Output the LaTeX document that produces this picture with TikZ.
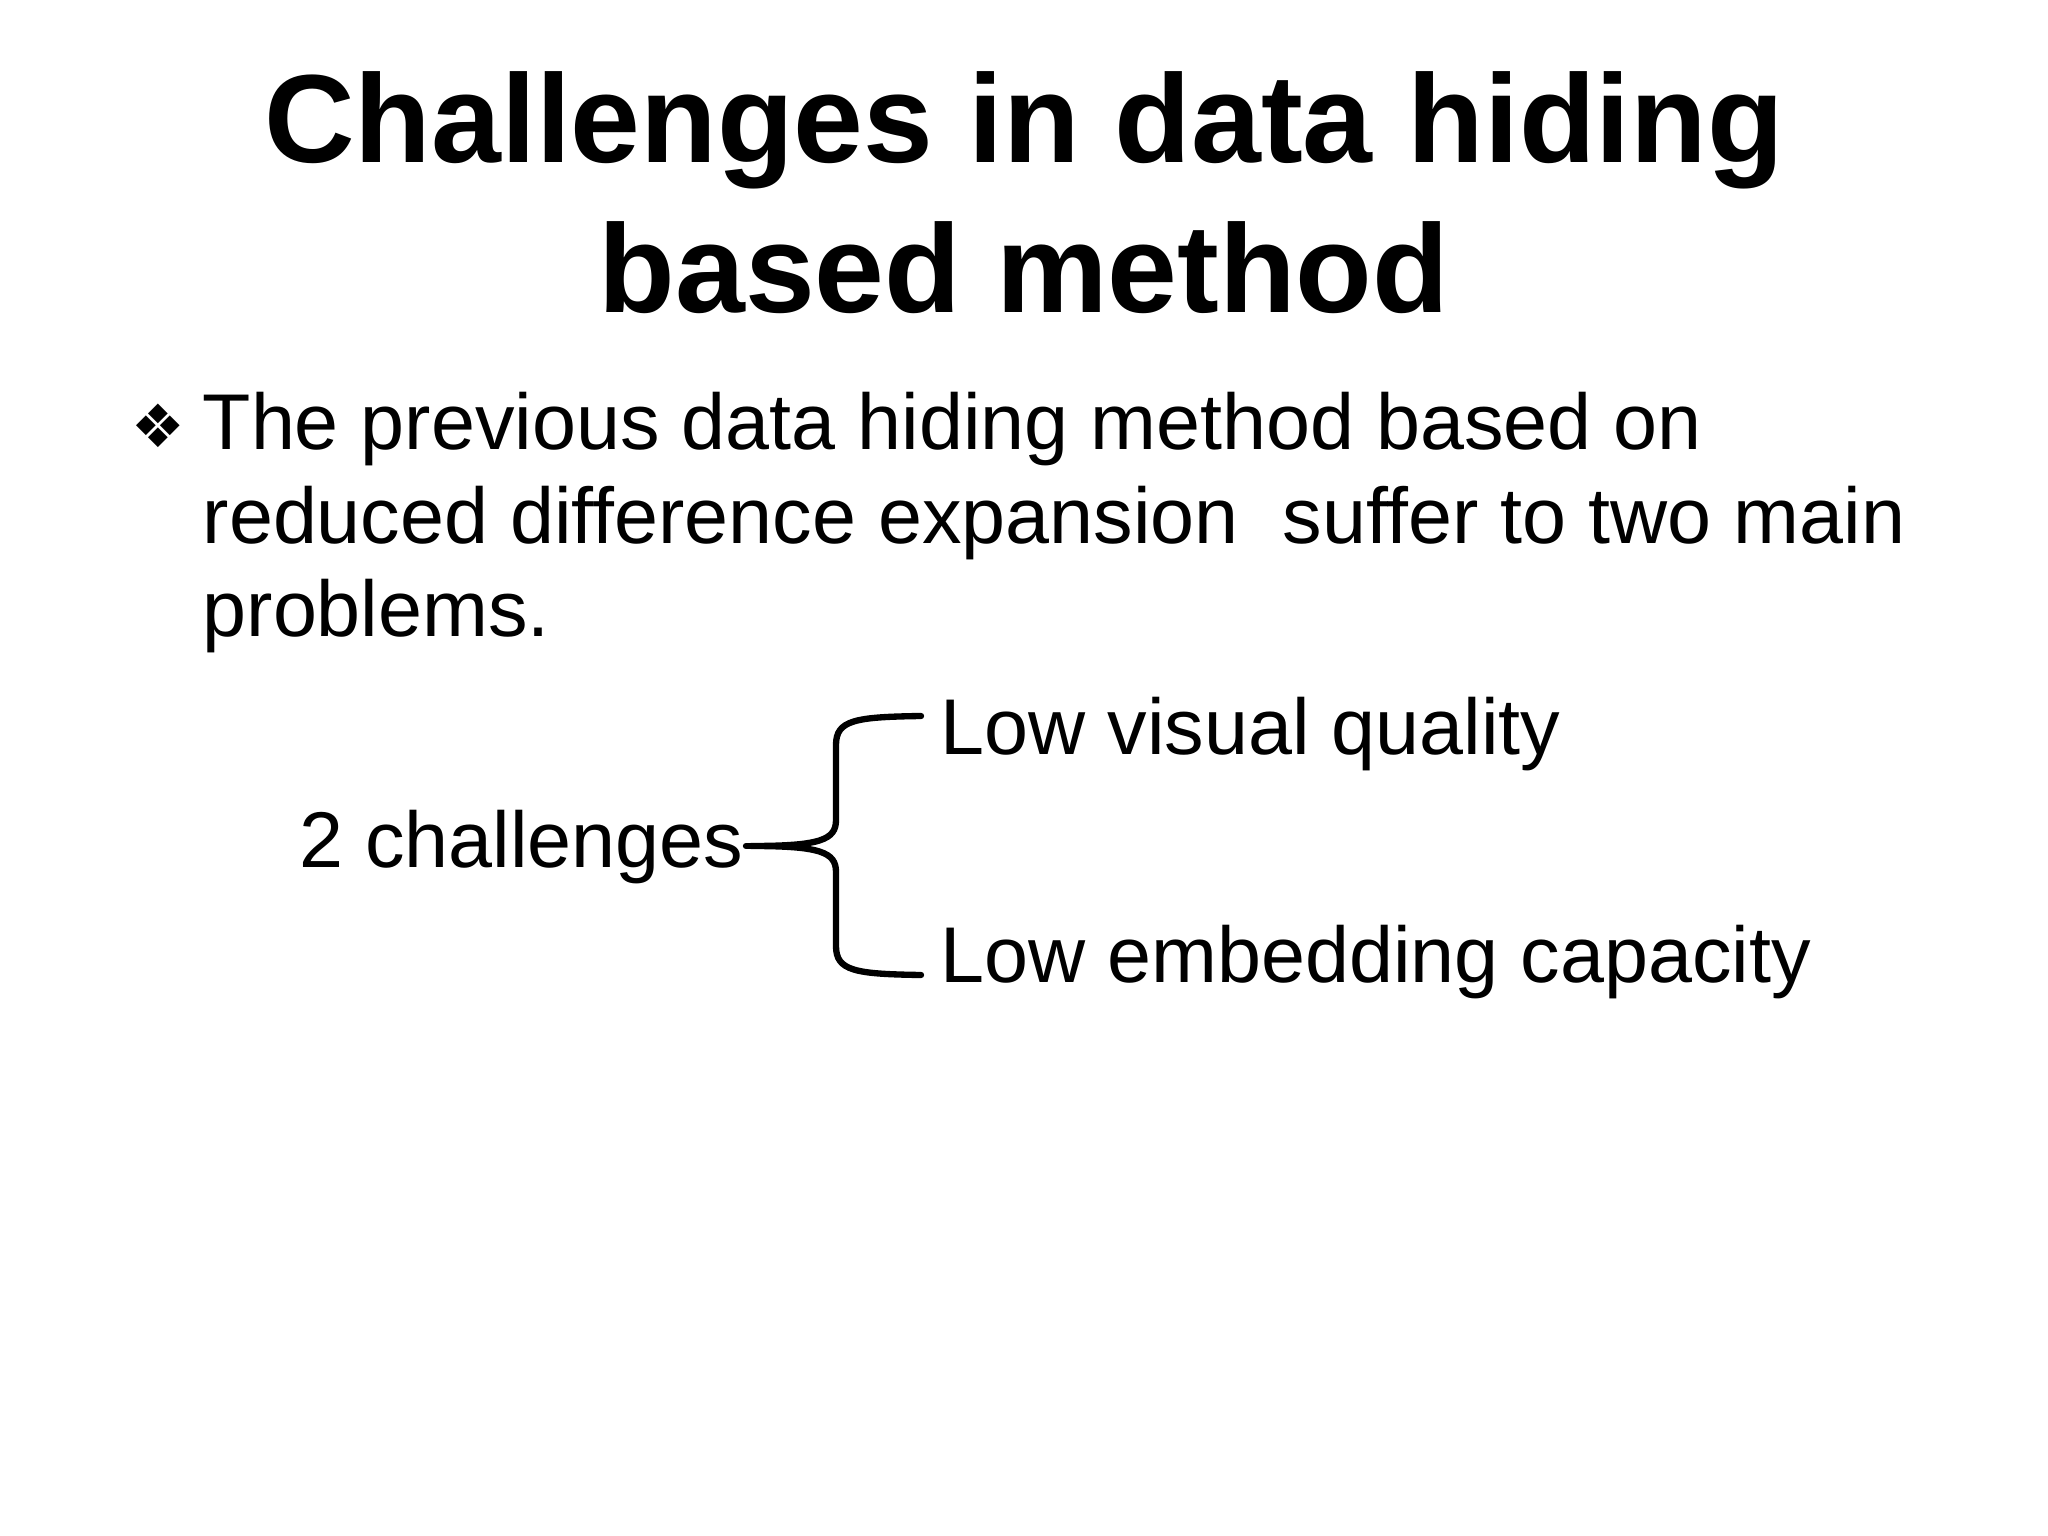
\documentclass[tikz,border=0pt]{standalone}
\usepackage{fontspec}
\setmainfont{Liberation Sans}
\newfontfamily\symfont{DejaVu Sans}
\usetikzlibrary{positioning}

\begin{document}
\begin{tikzpicture}[
    title_text/.style={font=\fontsize{35.7}{43}\selectfont\bfseries},
    body_text/.style={font=\fontsize{22.5}{26.7}\selectfont, align=left},
    brace/.style={draw, line width=1.8pt, line cap=round, line join=round}
]
    \useasboundingbox (0,0) rectangle (20.48,-15.36);

    % === Title ===
    \node[title_text, anchor=base] (title1) at (10.24,-1.63) {Challenges in data hiding};
    \node[title_text, anchor=base] (title2) at (10.24,-3.13) {based method};

    % === Bullet ===
    \node[anchor=base west, inner sep=0pt, font=\fontsize{17}{20}\symfont] (bullet) at (1.31,-4.48) {❖};
    \node[body_text, anchor=base west, inner sep=0pt] (intro) at (2.02,-6.37)
        {The previous data hiding method based on\\
         reduced difference expansion\ \ suffer to two main\\
         problems.};

    % === Challenges ===
    \node[body_text, anchor=base east, inner sep=0pt] (chal) at (7.44,-8.68) {2 challenges};
    \node[body_text, anchor=base west, inner sep=0pt] (visual) at (9.40,-7.55) {Low visual quality};
    \node[body_text, anchor=base west, inner sep=0pt] (capacity) at (9.40,-9.82) {Low embedding capacity};

    % Brace
    \coordinate (tip) at (7.51,-8.46);
    \draw[brace] (9.21,-7.16) .. controls (8.55,-7.17) and (8.36,-7.2) .. (8.36,-7.45)
        -- (8.36,-8.2) .. controls (8.36,-8.4) and (8.2,-8.46) .. (tip)
        .. controls (8.2,-8.46) and (8.36,-8.52) .. (8.36,-8.72)
        -- (8.36,-9.46) .. controls (8.36,-9.71) and (8.55,-9.74) .. (9.21,-9.75);
    \draw[brace] (tip) -- ([xshift=0.02cm]chal.east |- tip);
\end{tikzpicture}
\end{document}
